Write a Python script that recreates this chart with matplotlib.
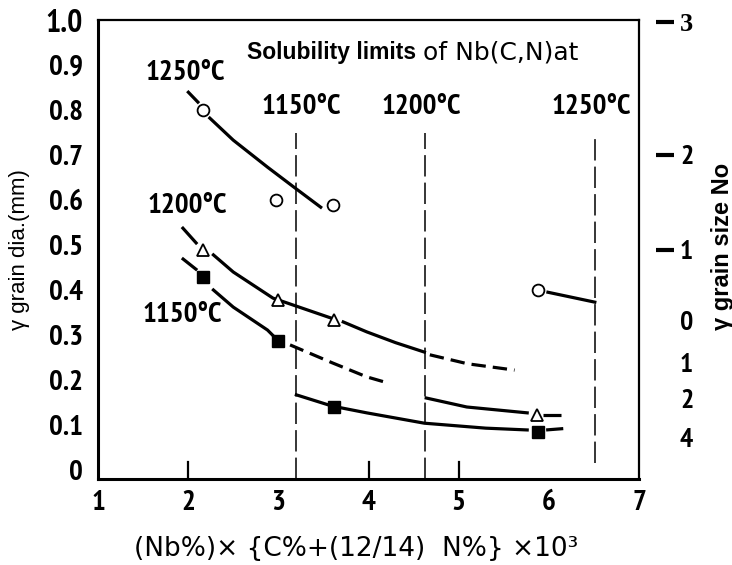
import matplotlib
matplotlib.use("Agg")
import matplotlib.pyplot as plt
from matplotlib import font_manager as fm

# ---------------- data ----------------
x_ticks = [1, 2, 3, 4, 5, 6, 7]
x_tick_labels = ["1", "2", "3", "4", "5", "6", "7"]
y_ticks = [0, 0.1, 0.2, 0.3, 0.4, 0.5, 0.6, 0.7, 0.8, 0.9, 1.0]
y_tick_labels = ["0", "0.1", "0.2", "0.3", "0.4", "0.5", "0.6", "0.7", "0.8", "0.9", "1.0"]

# right-hand grain size number scale (positions in mm of left axis)
gs_pos = [0.995, 0.70, 0.489, 0.333, 0.24, 0.16, 0.073]
gs_labels = ["3", "2", "1", "0", "1", "2", "4"]
gs_dashed = [True, True, True, False, False, False, False]

# measured points
c1250_x = [2.16, 2.97, 3.61, 5.88]
c1250_y = [0.80, 0.60, 0.59, 0.40]
c1200_x = [2.16, 3.00, 3.62, 5.87]
c1200_y = [0.489, 0.378, 0.333, 0.122]
c1150_x = [2.17, 3.00, 3.62, 5.88]
c1150_y = [0.429, 0.287, 0.140, 0.084]

# curves
l1250_lead_x = [1.99, 2.12]
l1250_lead_y = [0.842, 0.815]
l1250_a_x = [2.24, 2.50, 2.88, 3.17, 3.47]
l1250_a_y = [0.782, 0.733, 0.673, 0.629, 0.584]
l1250_b_x = [5.99, 6.51]
l1250_b_y = [0.395, 0.373]

l1200_lead_x = [1.93, 2.10]
l1200_lead_y = [0.540, 0.502]
l1200_a_x = [2.28, 2.50, 2.94, 3.10, 3.58]
l1200_a_y = [0.478, 0.440, 0.382, 0.371, 0.338]
l1200_b_x = [3.72, 3.98, 4.30, 4.62]
l1200_b_y = [0.329, 0.307, 0.283, 0.262]
l1200_dash_x = [4.68, 5.10, 5.62]
l1200_dash_y = [0.256, 0.236, 0.222]
l1200_c_x = [4.64, 5.09, 5.76]
l1200_c_y = [0.160, 0.140, 0.127]
l1200_tail_x = [5.94, 6.13]
l1200_tail_y = [0.122, 0.122]

l1150_lead_x = [1.93, 2.10]
l1150_lead_y = [0.471, 0.444]
l1150_a_x = [2.28, 2.50, 2.88, 2.95]
l1150_a_y = [0.400, 0.362, 0.311, 0.297]
l1150_dash_x = [3.13, 3.60, 3.98, 4.17]
l1150_dash_y = [0.278, 0.238, 0.207, 0.196]
l1150_b_x = [3.20, 3.55]
l1150_b_y = [0.167, 0.145]
l1150_c_x = [3.70, 3.98, 4.62, 5.30, 5.76]
l1150_c_y = [0.138, 0.127, 0.104, 0.093, 0.089]
l1150_tail_x = [5.97, 6.16]
l1150_tail_y = [0.089, 0.092]

# solubility limits
sol_x = [3.20, 4.63, 6.51]
sol_labels = ["1150\u00b0C", "1200\u00b0C", "1250\u00b0C"]
sol_label_x = [3.25, 4.58, 6.47]
sol_top = 0.75
sol_bottom = [-0.02, -0.02, 0.015]

# curve labels
curve_labels = ["1250\u00b0C", "1200\u00b0C", "1150\u00b0C"]
curve_label_x = [1.97, 1.99, 1.93]
curve_label_y = [0.882, 0.586, 0.344]

# ---------------- fonts ----------------
def pick_bold(cands, fallback="DejaVu Sans"):
    for c in cands:
        for f in fm.fontManager.ttflist:
            if f.name == c and str(f.weight) in ("bold", "700"):
                return c
    return fallback

narrow = pick_bold(["PT Sans Narrow", "Asap Condensed", "Pragati Narrow",
                    "Barlow Semi Condensed", "Roboto Condensed", "Archivo Narrow"])
sans = "Liberation Sans"
serif = "Liberation Serif"

fig = plt.figure(figsize=(7.32, 5.65), dpi=100)
ax = fig.add_axes([98 / 732, 1 - 479 / 565, (639 - 98) / 732, (479 - 20) / 565])

ax.set_xlim(1, 7)
ax.set_ylim(-0.02, 1.0)

lw = 2.3
k = "black"
# 1250
ax.plot(l1250_lead_x, l1250_lead_y, color=k, lw=lw, solid_capstyle="butt")
ax.plot(l1250_a_x, l1250_a_y, color=k, lw=lw)
ax.plot(l1250_b_x, l1250_b_y, color=k, lw=lw)
# 1200
ax.plot(l1200_lead_x, l1200_lead_y, color=k, lw=lw, solid_capstyle="butt")
ax.plot(l1200_a_x, l1200_a_y, color=k, lw=lw)
ax.plot(l1200_b_x, l1200_b_y, color=k, lw=lw)
ax.plot(l1200_dash_x, l1200_dash_y, color=k, lw=lw, dashes=(4.5, 2.2))
ax.plot(l1200_c_x, l1200_c_y, color=k, lw=lw)
ax.plot(l1200_tail_x, l1200_tail_y, color=k, lw=lw, solid_capstyle="butt")
# 1150
ax.plot(l1150_lead_x, l1150_lead_y, color=k, lw=lw, solid_capstyle="butt")
ax.plot(l1150_a_x, l1150_a_y, color=k, lw=lw)
ax.plot(l1150_dash_x, l1150_dash_y, color=k, lw=lw, dashes=(4.5, 2.2))
ax.plot(l1150_b_x, l1150_b_y, color=k, lw=lw)
ax.plot(l1150_c_x, l1150_c_y, color=k, lw=lw)
ax.plot(l1150_tail_x, l1150_tail_y, color=k, lw=lw, solid_capstyle="butt")

# markers
ax.plot(c1250_x, c1250_y, ls="none", marker="o", ms=8.5, mfc="white", mec=k, mew=1.3, zorder=5)
ax.plot(c1200_x, c1200_y, ls="none", marker="^", ms=8.5, mfc="white", mec=k, mew=1.3, zorder=5)
ax.plot(c1150_x, c1150_y, ls="none", marker="s", ms=9, mfc=k, mec=k, zorder=5)

# solubility limit lines
for xv, lab, lx, yb in zip(sol_x, sol_labels, sol_label_x, sol_bottom):
    ax.plot([xv, xv], [yb, sol_top], color=k, lw=1.1, dashes=(14, 4), clip_on=False)
    ax.text(lx, 0.806, lab, ha="center", va="center", fontsize=21,
            fontweight="bold", family=narrow)

ax.text(2.65, 0.927, "Solubility limits", ha="left", va="center", fontsize=16.5,
        fontweight="bold", family=sans)
ax.text(4.60, 0.927, "of Nb(C,N)at", ha="left", va="center", fontsize=18, family="DejaVu Sans")

for lab, lx, ly in zip(curve_labels, curve_label_x, curve_label_y):
    ax.text(lx, ly, lab, ha="center", va="center", fontsize=21,
            fontweight="bold", family=narrow)

# ticks
ax.set_xticks(x_ticks)
ax.set_xticklabels(x_tick_labels, fontsize=21, fontweight="bold", family=narrow)
ax.set_yticks(y_ticks)
ax.set_yticklabels(y_tick_labels, fontsize=21, fontweight="bold", family=narrow)
ax.tick_params(axis="x", length=0, pad=8)
ax.tick_params(axis="y", length=0, pad=11)
ax.get_yticklabels()[-1].set_fontsize(23)
for xv in [2, 4, 5]:
    ax.plot([xv, xv], [-0.02, 0.018], color=k, lw=1.6)

for s in ["left", "bottom"]:
    ax.spines[s].set_linewidth(2.2)
for s in ["top", "right"]:
    ax.spines[s].set_linewidth(1.6)

ax.set_xlabel("(Nb%)\u00d7 {C%+(12/14)  N%} \u00d710\u00b3", fontsize=19, family="DejaVu Sans")
ax.xaxis.set_label_coords(0.477, -0.125)
ax.set_ylabel("\u03b3 grain dia.(mm)", fontsize=16, family=sans, labelpad=11)

# right axis: grain size number
ax2 = ax.twinx()
ax2.set_ylim(ax.get_ylim())
ax2.spines["right"].set_position(("outward", 12))
for s in ax2.spines.values():
    s.set_visible(False)
ax2.set_yticks(gs_pos)
ax2.set_yticklabels(gs_labels, fontsize=20, fontweight="bold", family=narrow)
ax2.tick_params(axis="y", length=13, width=3, direction="out", pad=14)
for t in ax2.get_yticklabels():
    t.set_ha("right")
for tk, dsh in zip(ax2.yaxis.get_major_ticks(), gs_dashed):
    tk.tick2line.set_visible(dsh)
first = ax2.get_yticklabels()[0]
first.set_family(serif)
first.set_fontsize(19)

fig.text(722 / 732, 1 - 246 / 565, "\u03b3 grain size No", fontsize=17, family=sans,
         fontweight="bold", rotation=90, ha="center", va="center")

fig.savefig("out.png", dpi=100)
